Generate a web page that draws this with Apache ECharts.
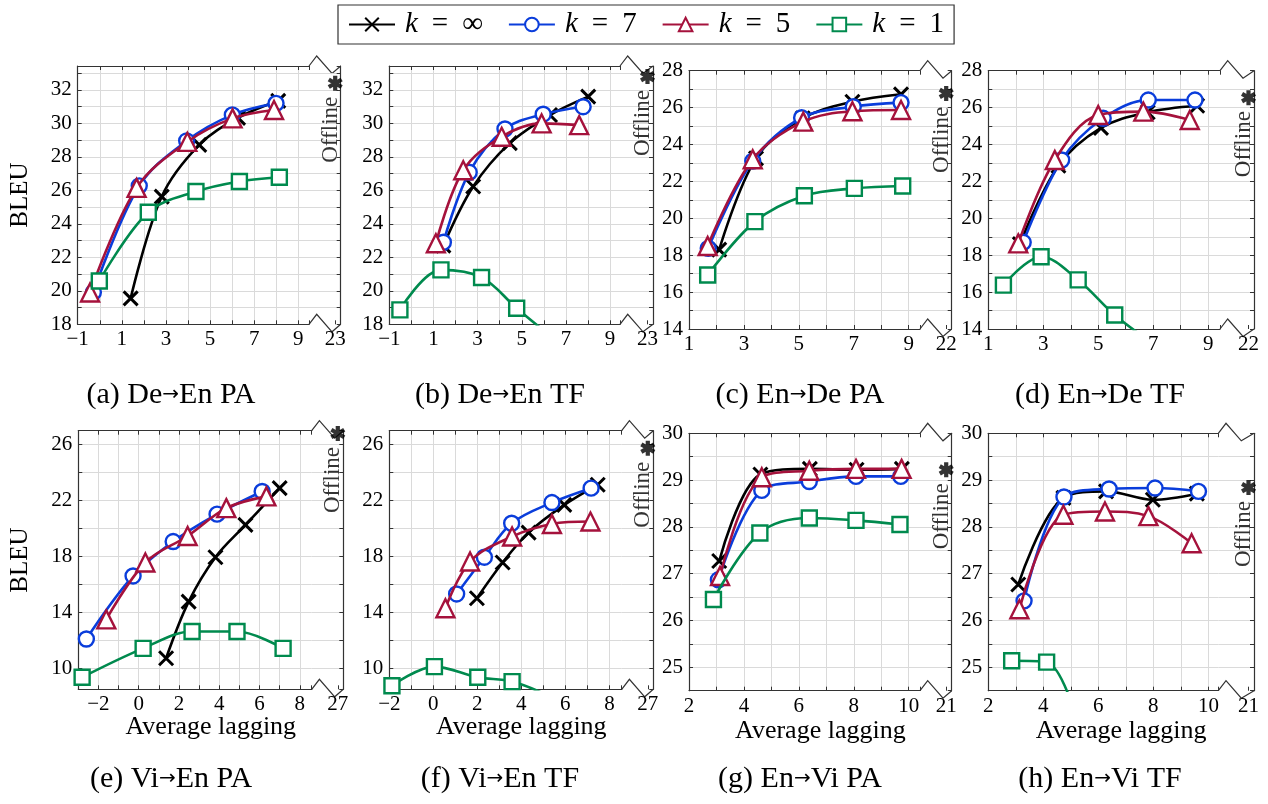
<!DOCTYPE html>
<html><head><meta charset="utf-8">
<script src="https://cdn.jsdelivr.net/npm/echarts@6/dist/echarts.min.js"></script>
<style>html,body{margin:0;padding:0;background:#fff}#c{width:1268px;height:804px}</style>
</head><body><div id="c"></div>
<script>
// ================= DATA =================
const seriesNames = ['k = ∞', 'k = 7', 'k = 5', 'k = 1'];

// (a) De→En PA
const deEnPA_inf = [[1.40,19.55],[2.81,25.63],[4.51,28.72],[6.27,30.33],[8.09,31.35]];
const deEnPA_k7  = [[-0.29,19.91],[1.79,26.27],[3.94,28.96],[6.01,30.51],[7.99,31.20]];
const deEnPA_k5  = [[-0.44,19.90],[1.67,26.15],[3.97,28.90],[6.02,30.30],[7.90,30.80]];
const deEnPA_k1  = [[-0.02,20.59],[2.20,24.69],[4.36,25.93],[6.33,26.53],[8.14,26.78]];
// (b) De→En TF
const deEnTF_inf = [[1.45,22.70],[2.80,26.23],[4.46,28.82],[6.28,30.50],[8.01,31.60]];
const deEnTF_k7  = [[1.45,22.90],[2.62,27.08],[4.24,29.67],[5.97,30.55],[7.78,31.00]];
const deEnTF_k5  = [[1.11,22.84],[2.35,27.20],[4.09,29.20],[5.90,30.00],[7.60,29.90]];
const deEnTF_k1  = [[-0.52,18.86],[1.34,21.25],[3.18,20.80],[4.77,18.96],[6.30,17.30]];
// (c) En→De PA
const enDePA_inf = [[2.10,18.30],[3.44,23.25],[5.14,25.42],[6.95,26.32],[8.72,26.72]];
const enDePA_k7  = [[1.70,18.37],[3.32,23.10],[5.10,25.45],[6.98,26.05],[8.72,26.27]];
const enDePA_k5  = [[1.68,18.50],[3.32,23.20],[5.16,25.24],[6.95,25.80],[8.72,25.87]];
const enDePA_k1  = [[1.68,16.93],[3.40,19.82],[5.20,21.22],[7.02,21.62],[8.78,21.75]];
// (d) En→De TF
const enDeTF_inf = [[2.15,18.60],[3.55,22.85],[5.10,24.90],[6.80,25.75],[8.60,26.10]];
const enDeTF_k7  = [[2.27,18.70],[3.67,23.16],[5.18,25.42],[6.82,26.41],[8.52,26.41]];
const enDeTF_k5  = [[2.09,18.64],[3.42,23.16],[5.00,25.60],[6.64,25.78],[8.33,25.33]];
const enDeTF_k1  = [[1.55,16.38],[2.92,17.92],[4.27,16.66],[5.60,14.76],[7.00,13.20]];
// (e) Vi→En PA
const viEnPA_inf = [[1.36,10.72],[2.48,14.77],[3.81,17.95],[5.30,20.26],[7.00,22.89]];
const viEnPA_k7  = [[-2.60,12.10],[-0.28,16.61],[1.71,19.07],[3.89,21.03],[6.13,22.65]];
const viEnPA_k5  = [[-1.61,13.50],[0.33,17.57],[2.43,19.47],[4.35,21.46],[6.34,22.30]];
const viEnPA_k1  = [[-2.81,9.36],[0.22,11.43],[2.65,12.63],[4.88,12.63],[7.17,11.43]];
// (f) Vi→En TF
const viEnTF_inf = [[1.98,15.01],[3.15,17.57],[4.33,19.71],[5.95,21.69],[7.47,23.13]];
const viEnTF_k7  = [[1.06,15.32],[2.32,17.95],[3.56,20.38],[5.39,21.86],[7.17,22.89]];
const viEnTF_k5  = [[0.55,14.30],[1.67,17.64],[3.58,19.43],[5.39,20.33],[7.14,20.50]];
const viEnTF_k1  = [[-1.88,8.75],[0.05,10.12],[2.02,9.36],[3.58,9.05],[5.30,8.00]];
// (g) En→Vi PA
const enViPA_inf = [[3.10,27.27],[4.60,29.12],[6.40,29.24],[8.10,29.22],[9.75,29.24]];
const enViPA_k7  = [[3.07,26.87],[4.65,28.78],[6.38,28.97],[8.08,29.08],[9.71,29.08]];
const enViPA_k5  = [[3.13,26.95],[4.65,29.06],[6.38,29.20],[8.08,29.24],[9.74,29.24]];
const enViPA_k1  = [[2.89,26.45],[4.58,27.87],[6.38,28.19],[8.08,28.14],[9.68,28.05]];
// (h) En→Vi TF
const enViTF_inf = [[3.09,26.77],[4.73,28.62],[6.28,28.76],[7.98,28.58],[9.58,28.71]];
const enViTF_k7  = [[3.30,26.42],[4.75,28.64],[6.39,28.81],[8.06,28.83],[9.64,28.76]];
const enViTF_k5  = [[3.13,26.24],[4.73,28.26],[6.24,28.33],[7.82,28.23],[9.39,27.65]];
const enViTF_k1  = [[2.85,25.14],[4.12,25.11],[5.50,23.30]];

const offlineBLEU  = [32.4, 32.8, 26.77, 26.54, 26.8, 25.75, 29.22, 28.84];
const offlineTicks = [23, 23, 22, 22, 27, 27, 21, 21];

const xTickLabels = [
  [-1,1,3,5,7,9], [-1,1,3,5,7,9], [1,3,5,7,9], [1,3,5,7,9],
  [-2,0,2,4,6,8], [-2,0,2,4,6,8], [2,4,6,8,10], [2,4,6,8,10]
];
const yTickLabels = [
  [18,20,22,24,26,28,30,32], [18,20,22,24,26,28,30,32],
  [14,16,18,20,22,24,26,28], [14,16,18,20,22,24,26,28],
  [10,14,18,22,26], [10,14,18,22,26],
  [25,26,27,28,29,30], [25,26,27,28,29,30]
];
const captions = [
  ['(a) De','En PA'], ['(b) De','En TF'], ['(c) En','De PA'], ['(d) En','De TF'],
  ['(e) Vi','En PA'], ['(f) Vi','En TF'], ['(g) En','Vi PA'], ['(h) En','Vi TF']
];
const xAxisName = 'Average lagging';
const yAxisName = 'BLEU';
const offlineName = 'Offline';

const panelData = [
  [deEnPA_inf, deEnPA_k7, deEnPA_k5, deEnPA_k1],
  [deEnTF_inf, deEnTF_k7, deEnTF_k5, deEnTF_k1],
  [enDePA_inf, enDePA_k7, enDePA_k5, enDePA_k1],
  [enDeTF_inf, enDeTF_k7, enDeTF_k5, enDeTF_k1],
  [viEnPA_inf, viEnPA_k7, viEnPA_k5, viEnPA_k1],
  [viEnTF_inf, viEnTF_k7, viEnTF_k5, viEnTF_k1],
  [enViPA_inf, enViPA_k7, enViPA_k5, enViPA_k1],
  [enViTF_inf, enViTF_k7, enViTF_k5, enViTF_k1]
];

// ================= LAYOUT / STYLE =================
const layout = [
  {L:77.7, B1:309,   R:340.7, T:66,    Bt:324.3, xmin:-1, xmax:9.485, ymin:18,  ymax:33.43, yStep:1},
  {L:389.3,B1:620,   R:653,   T:66,    Bt:324.3, xmin:-1, xmax:9.45,  ymin:18,  ymax:33.43, yStep:1},
  {L:689,  B1:920,   R:951.7, T:70.7,  Bt:329,   xmin:1,  xmax:9.41,  ymin:14,  ymax:28,    yStep:1},
  {L:988.3,B1:1220,  R:1254,  T:70.7,  Bt:329,   xmin:1,  xmax:9.43,  ymin:14,  ymax:28,    yStep:1},
  {L:78.3, B1:311.7, R:343.3, T:430.7, Bt:689.3, xmin:-3, xmax:8.59,  ymin:8.5, ymax:27,    yStep:2},
  {L:389.3,B1:621.7, R:653.3, T:430.7, Bt:689.3, xmin:-2, xmax:8.56,  ymin:8.5, ymax:27,    yStep:2},
  {L:689,  B1:920,   R:951.7, T:433.3, Bt:690.7, xmin:2,  xmax:10.41, ymin:24.5,ymax:30,    yStep:0.5},
  {L:988.3,B1:1218.3,R:1254,  T:433.3, Bt:690.7, xmin:2,  xmax:10.36, ymin:24.5,ymax:30,    yStep:0.5}
];
const capX = [171, 500, 800, 1100];
const capY = [395, 779];
const FONT = 'Liberation Serif';
const AX = '#333333', GRIDC = '#dadada';
const COLORS = ['#000000', '#0a3ddb', '#a5123c', '#008a4e'];
const CROSS = 'path://M0,0L10,10M10,0L0,10';
const STAR = 'path://M4.3,0L7.7,0L7.7,12L4.3,12Z M10.346,1.528L12.046,4.472L1.654,10.472L-0.046,7.528Z M-0.046,4.472L1.654,1.528L12.046,7.528L10.346,10.472Z';
const SYMBOLS = [CROSS, 'circle', 'triangle', 'rect'];
const SIZES = [14, 15, 18, 15];

function fmt(v){ return v < 0 ? '\u2212' + (-v) : String(v); }
function labelFormatter(list){
  return function(v){ const r = Math.round(v*1000)/1000; return list.indexOf(r) >= 0 ? fmt(r) : ''; };
}
function zig(x0, x1, y){ return [[x0,y],[x0+7.7,y-10],[x0+23,y+7.5],[x1,y]]; }

const grid = [], xAxis = [], yAxis = [], series = [], graphic = [];
panelData.forEach(function(sets, i){
  const P = layout[i];
  const g0 = 2*i, g1 = 2*i+1;
  grid.push({left:P.L, top:P.T, width:P.B1-P.L, height:P.Bt-P.T, containLabel:false, outerBoundsMode:'none'});
  grid.push({left:P.B1, top:P.T, width:P.R-P.B1, height:P.Bt-P.T, containLabel:false, outerBoundsMode:'none'});
  const axisLine = {show:true, onZero:false, lineStyle:{color:AX, width:1.2}};
  const tick = {show:true, inside:true, length:4, lineStyle:{color:AX, width:1}};
  const split = {show:true, showMinLine:false, showMaxLine:false, lineStyle:{color:GRIDC, width:1}};
  const lab = {fontSize:21, fontFamily:FONT, color:'#000'};
  xAxis.push({type:'value', gridIndex:g0, position:'bottom', min:P.xmin, max:P.xmax, minInterval:1, maxInterval:1, splitNumber:30,
    axisLine:axisLine, axisTick:tick, axisLabel:Object.assign({}, lab, {margin:5, formatter:labelFormatter(xTickLabels[i])}), splitLine:split});
  xAxis.push({type:'value', gridIndex:g0, position:'top', min:P.xmin, max:P.xmax, minInterval:1, maxInterval:1, splitNumber:30,
    axisLine:axisLine, axisTick:tick, axisLabel:{show:false}, splitLine:{show:false}});
  const t = offlineTicks[i];
  const w = P.R - P.B1;
  xAxis.push({type:'value', gridIndex:g1, position:'bottom', min:t-(w-5.5)/10, max:t+0.55, minInterval:1, maxInterval:1, splitNumber:5,
    axisLine:{show:false, onZero:false}, axisTick:Object.assign({}, tick, {customValues:[t]}),
    axisLabel:Object.assign({}, lab, {margin:5, customValues:[t], formatter:function(v){ return Math.abs(v-t) < 1e-6 ? String(t) : ''; }}),
    splitLine:{show:false}});
  yAxis.push({type:'value', gridIndex:g0, position:'left', min:P.ymin, max:P.ymax, minInterval:P.yStep, maxInterval:P.yStep, splitNumber:60,
    axisLine:axisLine, axisTick:tick, axisLabel:Object.assign({}, lab, {margin:6, formatter:labelFormatter(yTickLabels[i])}), splitLine:split});
  yAxis.push({type:'value', gridIndex:g1, position:'right', min:P.ymin, max:P.ymax, minInterval:P.yStep, maxInterval:P.yStep, splitNumber:60,
    axisLine:axisLine, axisTick:tick, axisLabel:{show:false}, splitLine:split});

  sets.forEach(function(d, j){
    series.push({type:'line', name:seriesNames[j], xAxisIndex:3*i, yAxisIndex:g0, data:d, smooth:0.35,
      symbol:SYMBOLS[j], symbolSize:SIZES[j], showAllSymbol:true, clip:true,
      lineStyle:{color:COLORS[j], width:2.6},
      itemStyle:{color:'#fff', borderColor:COLORS[j], borderWidth: j===0 ? 3 : 2.4},
      z:2+j, emphasis:{disabled:true}, animation:false});
  });
  series.push({type:'scatter', name:offlineName, xAxisIndex:3*i+2, yAxisIndex:g1, data:[[t, offlineBLEU[i]]],
    symbol:STAR, symbolSize:15, itemStyle:{color:'#000'}, clip:false, z:10, silent:true, animation:false,
    label:{show:true, formatter:offlineName, position:[3, 21], rotate:90, align:'right', verticalAlign:'middle',
      fontSize:23, fontFamily:FONT, color:'#000'}});

  graphic.push({type:'polyline', silent:true, shape:{points:zig(P.B1, P.R, P.T)}, style:{stroke:AX, lineWidth:1.2, fill:'none'}});
  graphic.push({type:'polyline', silent:true, shape:{points:zig(P.B1, P.R, P.Bt)}, style:{stroke:AX, lineWidth:1.2, fill:'none'}});
  graphic.push({type:'text', silent:true, x:capX[i%4], y:capY[Math.floor(i/4)],
    style:{text:captions[i][0] + '{s|→}' + captions[i][1], fontSize:30, fontFamily:FONT, fill:'#000', align:'center', verticalAlign:'middle',
      rich:{s:{fontSize:20, fontFamily:'DejaVu Sans', fill:'#000'}}}});
  if (i % 4 === 0) {
    graphic.push({type:'text', silent:true, x:20, y:(P.T+P.Bt)/2, rotation:Math.PI/2,
      style:{text:yAxisName, fontSize:25, fontFamily:FONT, fill:'#000', align:'center', verticalAlign:'middle'}});
  }
  if (i >= 4) {
    graphic.push({type:'text', silent:true, x:(P.L+P.R)/2, y:(i < 6 ? 727 : 731),
      style:{text:xAxisName, fontSize:26, fontFamily:FONT, fill:'#000', align:'center', verticalAlign:'middle'}});
  }
});

const option = {
  animation:false,
  backgroundColor:'#fff',
  grid:grid, xAxis:xAxis, yAxis:yAxis, series:series, graphic:graphic,
  legend:{data:seriesNames, left:338, top:5, orient:'horizontal', padding:[5,10], itemWidth:46, itemHeight:17, itemGap:25,
    borderColor:'#333', borderWidth:1.2, borderRadius:0, backgroundColor:'#fff', selectedMode:false,
    formatter:function(name){ return '{it|k}{eq|=}' + name.split('= ')[1]; },
    textStyle:{fontSize:29, fontFamily:FONT, color:'#000',
      rich:{it:{fontStyle:'italic', fontSize:29, fontFamily:FONT, color:'#000', padding:[0,0,0,5]},
            eq:{fontSize:29, fontFamily:FONT, color:'#000', padding:[0,14]}}}},
  tooltip:{show:false}
};
const chart = echarts.init(document.getElementById('c'), null, {renderer:'canvas'});
chart.setOption(option);
</script></body></html>
